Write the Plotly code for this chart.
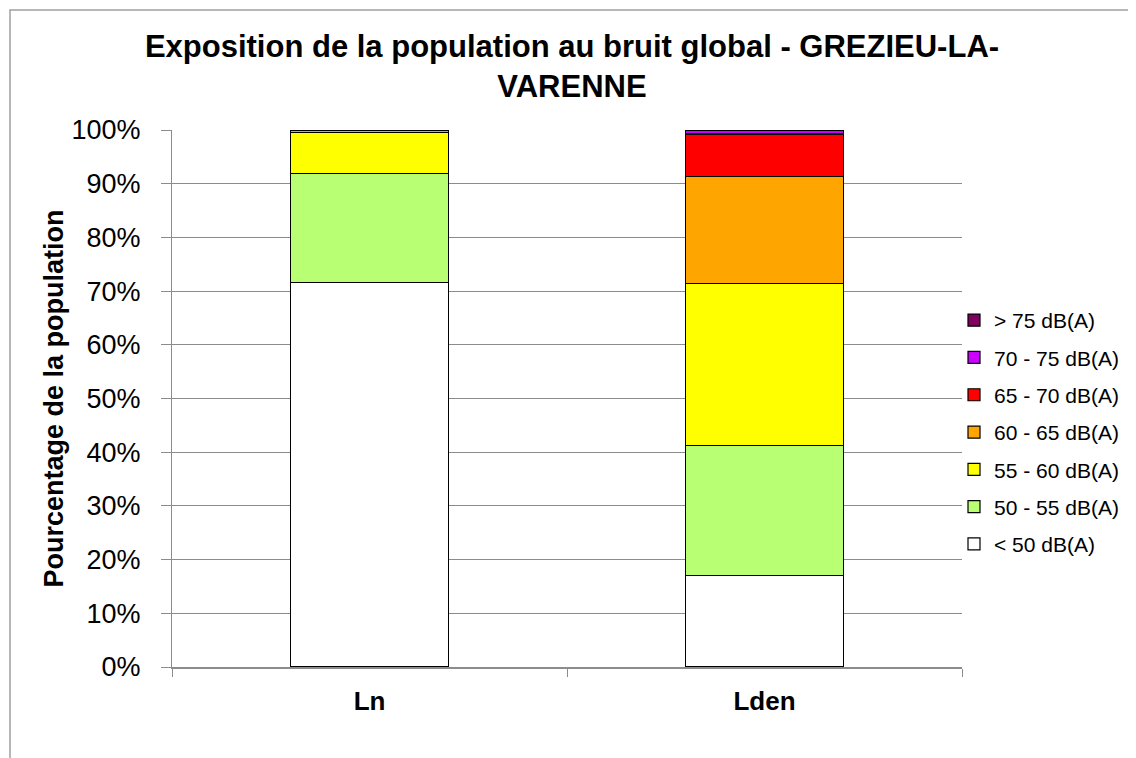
import plotly.graph_objects as go

categories = ["Ln", "Lden"]
series_names = ["< 50 dB(A)", "50 - 55 dB(A)", "55 - 60 dB(A)", "60 - 65 dB(A)",
                "65 - 70 dB(A)", "70 - 75 dB(A)", "> 75 dB(A)"]
lt50 = [71.6, 17.0]
s50_55 = [20.3, 24.3]
s55_60 = [7.7, 30.1]
s60_65 = [0.35, 19.9]
s65_70 = [0.05, 7.95]
s70_75 = [0.0, 0.7]
gt75 = [0.0, 0.05]
colors = ["#FFFFFF", "#B9FF73", "#FFFF00", "#FFA500", "#FF0000", "#CC00FF", "#800060"]

values = [lt50, s50_55, s55_60, s60_65, s65_70, s70_75, gt75]

FONT = "Arial, Liberation Sans, sans-serif"
fig = go.Figure()
n = len(series_names)
for i, (name, vals, col) in enumerate(zip(series_names, values, colors)):
    fig.add_trace(go.Bar(
        x=categories, y=vals, name=name, width=0.4,
        marker=dict(color=col, line=dict(color="#000000", width=1.2)),
        legendgroup=f"g{i}", legendrank=100 + (n - i),
    ))

# page body has an 8px offset
OFF = 8
W, H = 1136 - OFF, 758 - OFF
L = 172 - OFF
T = 130 - OFF
R = W - (962 - OFF)
B = H - (667 - OFF)
pw, ph = W - L - R, H - T - B

fig.update_layout(
    width=W, height=H,
    barmode="stack",
    margin=dict(l=L, r=R, t=T, b=B, autoexpand=False),
    paper_bgcolor="white", plot_bgcolor="white",
    font=dict(family=FONT, color="black"),
    title=dict(text="<b>Exposition de la population au bruit global - GREZIEU-LA-<br>VARENNE</b>",
               x=0.5, xref="container", xanchor="center",
               y=1 - (57 - OFF) / H, yref="container", yanchor="top",
               font=dict(size=31, family=FONT)),
    legend=dict(x=-8 / pw + 1.0, xanchor="left", y=(H - B - (300 - OFF)) / ph, yanchor="top",
                traceorder="grouped", tracegroupgap=7,
                font=dict(size=21, family=FONT), bgcolor="rgba(0,0,0,0)"),
    showlegend=True,
)
fig.update_yaxes(range=[0, 100], dtick=10, ticksuffix="%\u00a0\u00a0",
                 showgrid=True, gridcolor="#8c8c8c", gridwidth=1,
                 showline=True, linecolor="#8c8c8c", linewidth=1,
                 ticks="outside", ticklen=10, tickcolor="#8c8c8c",
                 tickfont=dict(size=27, family=FONT),
                 title=dict(text="<b>Pourcentage de la population</b>",
                            font=dict(size=27, family=FONT), standoff=0),
                 zeroline=False, automargin=False)
fig.update_xaxes(showline=True, linecolor="#8c8c8c", linewidth=2,
                 ticks="outside", tickson="boundaries", ticklen=8, tickcolor="#8c8c8c",
                 tickfont=dict(size=26, family=FONT), ticklabelstandoff=10,
                 tickvals=categories, ticktext=["<b>Ln</b>", "<b>Lden</b>"],
                 automargin=False)

# outer chart border
fig.add_shape(type="rect", xref="paper", yref="paper",
              x0=(10 - OFF - L) / pw, x1=(W + 20 - L) / pw,
              y0=(H - B - (H + 20)) / ph, y1=(H - B - (10 - OFF)) / ph,
              line=dict(color="#a0a0a0", width=1.5), fillcolor="rgba(0,0,0,0)", layer="below")

fig.write_html("out.html")
